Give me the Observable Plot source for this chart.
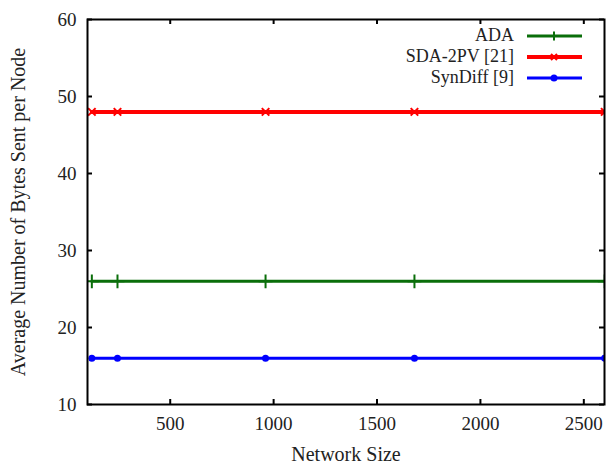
<!DOCTYPE html>
<html><head><meta charset="utf-8">
<script src="https://cdn.jsdelivr.net/npm/d3@7"></script>
<script src="https://cdn.jsdelivr.net/npm/@observablehq/plot@0.6"></script>
<style>
body{margin:0;background:#fff;}
#wrap{position:relative;width:606px;height:466px;font-family:"Liberation Serif",serif;}
#legend{position:absolute;left:360px;top:25px;}
.row{display:flex;align-items:center;height:21px;}
.row span{width:154px;text-align:right;font-size:18px;color:#222;}
.row svg{margin-left:11px;}
</style></head><body><div id="wrap"></div>
<script>
const seriesNames = ["ADA", "SDA-2PV [21]", "SynDiff [9]"];
const seriesColors = ["#0a6e0a", "#ff0000", "#0000ff"];
const seriesSymbols = ["plus", "times", "circle"];
const networkSizes = [121, 245, 961, 1681, 2601];
const adaValues = [26, 26, 26, 26, 26];
const sdaValues = [48, 48, 48, 48, 48];
const synValues = [16, 16, 16, 16, 16];
const xTicks = [500, 1000, 1500, 2000, 2500];
const yTicks = [10, 20, 30, 40, 50, 60];

const valuesBySeries = [adaValues, sdaValues, synValues];
const table = [];
seriesNames.forEach((s, i) => networkSizes.forEach((x, j) => table.push({series: s, x, y: valuesBySeries[i][j]})));

const W = 606, H = 466, mL = 87, mR = 2, mT = 19, mB = 62;
const fw = W - mL - mR, fh = H - mT - mB;
const tick = 5;

const chart = Plot.plot({
  width: W, height: H,
  marginLeft: mL, marginRight: mR, marginTop: mT, marginBottom: mB,
  style: {fontFamily: '"Liberation Serif", serif', fontSize: "19px", color: "#222", background: "#fff"},
  x: {domain: [100, 2600], ticks: xTicks},
  y: {domain: [10, 60], ticks: yTicks},
  color: {domain: seriesNames, range: seriesColors},
  marks: [
    Plot.axisX(xTicks, {tickSize: 0, tickPadding: 12, tickFormat: d => String(d), fontSize: 19, label: null}),
    Plot.axisX({tickSize: 0, ticks: [], label: "Network Size", labelAnchor: "center", labelArrow: "none", labelOffset: 56, fontSize: 20}),
    Plot.axisY(yTicks, {tickSize: 0, tickPadding: 11, tickFormat: d => String(d), fontSize: 19, label: null}),
    Plot.axisY({tickSize: 0, ticks: [], label: "Average Number of Bytes Sent per Node", labelAnchor: "center", labelArrow: "none", labelOffset: 77, fontSize: 20}),
    Plot.tickX(xTicks, {x: d => d, insetTop: fh - tick, stroke: "#000", strokeWidth: 2}),
    Plot.tickX(xTicks, {x: d => d, insetBottom: fh - tick, stroke: "#000", strokeWidth: 2}),
    Plot.tickY(yTicks, {y: d => d, insetRight: fw - tick, stroke: "#000", strokeWidth: 2}),
    Plot.tickY(yTicks, {y: d => d, insetLeft: fw - tick, stroke: "#000", strokeWidth: 2}),
    Plot.line(table, {x: "x", y: "y", z: "series", stroke: "series", strokeWidth: d => d.series === "SDA-2PV [21]" ? 4 : 3, clip: true}),
    Plot.dot(table.filter(d => d.series === "ADA"), {x: "x", y: "y", symbol: "plus", r: 4.5, stroke: "series", strokeWidth: 2, clip: true}),
    Plot.dot(table.filter(d => d.series === "SDA-2PV [21]"), {x: "x", y: "y", symbol: "times", r: 3.5, stroke: "series", strokeWidth: 2, clip: true}),
    Plot.dot(table.filter(d => d.series === "SynDiff [9]"), {x: "x", y: "y", symbol: "circle", r: 3.5, fill: "series", clip: true}),
    Plot.frame({stroke: "#000", strokeWidth: 2})
  ]
});
const wrap = document.getElementById("wrap");
wrap.appendChild(chart);

const legend = document.createElement("div");
legend.id = "legend";
seriesNames.forEach((s, i) => {
  const row = document.createElement("div");
  row.className = "row";
  const sp = document.createElement("span");
  sp.textContent = s;
  row.appendChild(sp);
  const svg = d3.create("svg").attr("width", 58).attr("height", 12);
  svg.append("line").attr("x1", 2).attr("x2", 57).attr("y1", 6).attr("y2", 6)
    .attr("stroke", seriesColors[i]).attr("stroke-width", i === 1 ? 4 : 3);
  if (seriesSymbols[i] === "plus") {
    svg.append("line").attr("x1", 29).attr("x2", 29).attr("y1", 1.5).attr("y2", 10.5).attr("stroke", seriesColors[i]).attr("stroke-width", 2);
  } else if (seriesSymbols[i] === "times") {
    svg.append("path").attr("d", "M26,3L32,9M32,3L26,9").attr("stroke", seriesColors[i]).attr("stroke-width", 2);
  } else {
    svg.append("circle").attr("cx", 29).attr("cy", 6).attr("r", 3.5).attr("fill", seriesColors[i]);
  }
  row.appendChild(svg.node());
  legend.appendChild(row);
});
wrap.appendChild(legend);
</script></body></html>
